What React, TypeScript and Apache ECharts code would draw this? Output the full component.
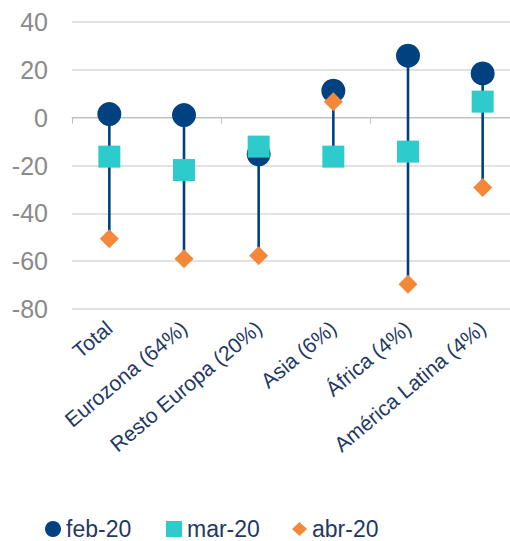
import React, { useEffect, useRef } from "react";
import * as echarts from "echarts";

// Regions and monthly readings
const categories = [
  "Total",
  "Eurozona (64%)",
  "Resto Europa (20%)",
  "Asia (6%)",
  "África (4%)",
  "América Latina (4%)",
];
const feb20 = [1.5, 1.1, -15.3, 11.3, 25.9, 18.5];
const mar20 = [-16.3, -21.9, -12.1, -16.3, -14.2, 6.7];
const abr20 = [-50.6, -59, -57.7, 6.7, -69.6, -29.2];
const seriesNames = ["feb-20", "mar-20", "abr-20"];
const yTicks = { min: -80, max: 40, interval: 20 };

const NAVY = "#00427F";
const TEAL = "#2DCBCB";
const ORANGE = "#F4883A";
const LABEL_NAVY = "#1F3864";
const FONT = "Liberation Sans, Arial, sans-serif";

export default function App() {
  const ref = useRef<HTMLDivElement>(null);

  useEffect(() => {
    if (!ref.current) return;
    const chart = echarts.init(ref.current, undefined, { renderer: "svg" });

    // Range bar per region: from highest to lowest reading
    const ranges = categories.map((_, i) => {
      const vals = [feb20[i], mar20[i], abr20[i]];
      return [i, Math.max(...vals), Math.min(...vals)];
    });

    const legendBase = {
      top: 512,
      itemHeight: 16,
      itemWidth: 16,
      textStyle: { color: LABEL_NAVY, fontSize: 23, lineHeight: 24, fontFamily: FONT },
      selectedMode: false,
    };

    chart.setOption({
      animation: false,
      // plot area runs slightly past the visible right edge
      grid: { left: 72, right: 2, top: 22, bottom: 232, containLabel: false },
      xAxis: [
        {
          type: "category",
          data: categories,
          boundaryGap: true,
          axisLine: { onZero: true, lineStyle: { color: "#BFBFBF", width: 1 } },
          axisTick: { show: true, length: 6, lineStyle: { color: "#BFBFBF" } },
          axisLabel: { show: false },
          splitLine: { show: false },
        },
        {
          type: "category",
          data: categories,
          position: "bottom",
          axisLine: { show: false, onZero: false },
          axisTick: { show: false },
          axisLabel: {
            rotate: 40,
            margin: 16,
            interval: 0,
            color: LABEL_NAVY,
            fontSize: 21,
            fontFamily: FONT,
          },
        },
      ],
      yAxis: {
        type: "value",
        min: yTicks.min,
        max: yTicks.max,
        interval: yTicks.interval,
        axisLine: { show: false },
        axisTick: { show: false },
        axisLabel: { color: "#8A8A8A", fontSize: 25, fontFamily: FONT, margin: 24 },
        splitLine: { lineStyle: { color: "#D9D9D9", width: 1.5 } },
      },
      legend: [
        { ...legendBase, left: 40, icon: "circle", data: [seriesNames[0]] },
        { ...legendBase, left: 161, icon: "rect", data: [seriesNames[1]] },
        { ...legendBase, left: 287, icon: "diamond", itemWidth: 15, itemHeight: 14, data: [seriesNames[2]] },
      ],
      series: [
        {
          type: "custom",
          name: "range",
          xAxisIndex: 0,
          data: ranges,
          encode: { x: 0, y: [1, 2] },
          z: 1,
          renderItem: (params: any, api: any) => {
            const top = api.coord([api.value(0), api.value(1)]);
            const bot = api.coord([api.value(0), api.value(2)]);
            return {
              type: "line",
              shape: { x1: top[0], y1: top[1], x2: bot[0], y2: bot[1] },
              style: { stroke: NAVY, lineWidth: 2.6 },
            };
          },
        },
        {
          type: "scatter",
          name: seriesNames[0],
          data: feb20,
          symbol: "circle",
          symbolSize: 24,
          itemStyle: { color: NAVY, opacity: 1 },
          z: 2,
        },
        {
          type: "scatter",
          name: seriesNames[1],
          data: mar20,
          symbol: "rect",
          symbolSize: 22,
          itemStyle: { color: TEAL, opacity: 1 },
          z: 3,
        },
        {
          type: "scatter",
          name: seriesNames[2],
          data: abr20,
          symbol: "diamond",
          symbolSize: 19,
          itemStyle: { color: ORANGE, opacity: 1 },
          z: 4,
        },
      ],
    });

    return () => chart.dispose();
  }, []);

  return (
    <div
      style={{
        position: "fixed",
        left: 0,
        top: 0,
        width: 510,
        height: 541,
        overflow: "hidden",
        background: "#fff",
      }}
    >
      <div ref={ref} style={{ width: 522, height: 541 }} />
    </div>
  );
}
